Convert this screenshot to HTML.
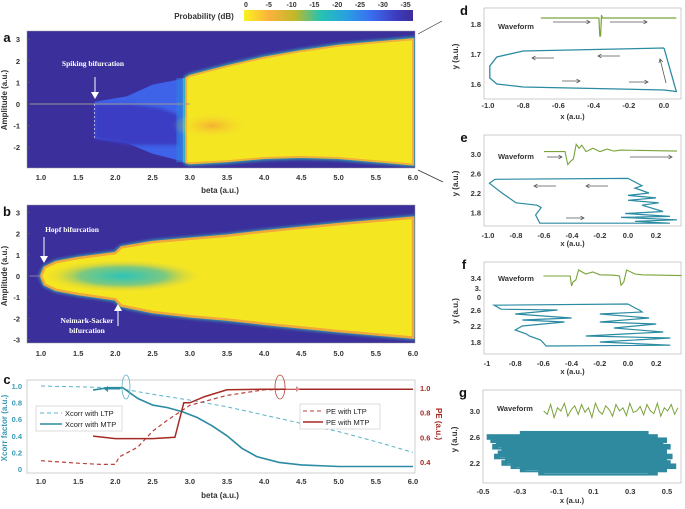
<!DOCTYPE html>
<html><head><meta charset="utf-8"><style>
body{margin:0;background:#fff;}
svg{display:block;font-family:"Liberation Sans",sans-serif;font-weight:bold;}
</style></head><body>
<svg id="fig" width="685" height="509" viewBox="0 0 685 509">
<defs>
<linearGradient id="cbar" x1="0" x2="1" y1="0" y2="0">
<stop offset="0" stop-color="#f9f11f"/><stop offset="0.15" stop-color="#fbb23c"/><stop offset="0.3" stop-color="#c2b828"/><stop offset="0.45" stop-color="#27c3b0"/><stop offset="0.6" stop-color="#27a2e0"/><stop offset="0.75" stop-color="#3a6ef0"/><stop offset="0.9" stop-color="#3d3cc0"/><stop offset="1" stop-color="#3b2e98"/></linearGradient>
<radialGradient id="blobB"><stop offset="0" stop-color="#2cc4b8"/><stop offset="0.55" stop-color="#7cc880"/><stop offset="1" stop-color="#f0d030" stop-opacity="0"/></radialGradient>
<radialGradient id="orangeA"><stop offset="0" stop-color="#f5a23a"/><stop offset="1" stop-color="#f7e823" stop-opacity="0"/></radialGradient>
<filter id="blur1"><feGaussianBlur stdDeviation="1.5"/></filter>
<filter id="blur3"><feGaussianBlur stdDeviation="3"/></filter>
<clipPath id="clipA"><rect x="27" y="31" width="388" height="137"/></clipPath>
<clipPath id="clipB"><rect x="27" y="205" width="388" height="138"/></clipPath>
<clipPath id="clipC"><rect x="27" y="380" width="388" height="93"/></clipPath>
</defs>
<g id="layer"></g>
</svg>
<script>
// ---------- data ----------
var betaTicks=[1.0,1.5,2.0,2.5,3.0,3.5,4.0,4.5,5.0,5.5,6.0];
var ampTicksA=[3,2,1,0,-1,-2];
var ampTicksB=[3,2,1,0,-1,-2,-3];
var cbarTicks=[0,-5,-10,-15,-20,-25,-30,-35];
// panel a envelopes
var aYelBeta=[2.95,3.0,3.5,4.0,4.5,5.0,5.5,6.0];
var aYelUp=[1.2,1.3,1.75,2.15,2.45,2.7,2.85,3.0];
var aYelLo=[-2.7,-2.75,-2.65,-2.5,-2.45,-2.5,-2.65,-2.8];
var aBlueBeta=[1.72,2.15,2.5,2.95];
var aBlueUp=[0.1,0.35,0.9,1.2];
var aBlueLo=[-1.6,-1.8,-2.3,-2.7];
// panel b envelope
var bBeta=[1.0,1.05,1.2,1.5,2.0,2.08,2.5,3.0,3.5,4.0,5.0,6.0];
var bUp=[0,0.4,0.65,0.85,1.08,1.35,1.6,1.75,1.9,2.1,2.45,2.75];
var bLo=[0,-0.4,-0.65,-0.85,-1.1,-1.4,-1.7,-1.9,-2.05,-2.25,-2.6,-2.9];
// panel c series
var xcLtpBeta=[1.0,2.0,2.5,3.0,3.5,4.0,4.5,5.0,5.5,6.0];
var xcLtp=[1.0,0.98,0.9,0.83,0.75,0.65,0.55,0.45,0.33,0.2];
var xcMtpBeta=[1.7,1.9,2.1,2.3,2.5,2.7,2.9,3.1,3.3,3.5,3.7,3.9,4.2,4.5,5.0,5.5,6.0];
var xcMtp=[0.95,0.98,0.98,0.85,0.77,0.74,0.69,0.62,0.52,0.40,0.25,0.15,0.08,0.05,0.03,0.03,0.03];
var peLtpBeta=[1.0,1.5,1.8,2.0,2.05,2.3,2.5,2.7,3.0,3.5,4.0,4.5,6.0];
var peLtp=[0.41,0.39,0.38,0.38,0.44,0.52,0.65,0.74,0.86,0.94,0.985,0.99,0.99];
var peMtpBeta=[1.7,2.0,2.5,2.8,2.92,3.0,3.2,3.5,4.0,6.0];
var peMtp=[0.61,0.59,0.59,0.60,0.88,0.88,0.93,0.985,0.99,0.99];
var xcTicks=[0,0.2,0.4,0.6,0.8,1.0];
var peTicks=[0.4,0.6,0.8,1.0];
// panel d
var dLoopX=[0,-0.8,-0.95,-0.99,-0.99,-0.95,-0.8,0,0.07,0];
var dLoopY=[1.72,1.71,1.69,1.66,1.62,1.60,1.59,1.58,1.575,1.72];
var dWaveX=[-0.7,-0.37,-0.365,-0.36,-0.355,-0.35,0.07];
var dWaveY=[1.82,1.82,1.76,1.76,1.83,1.82,1.82];
// panel e
var eLoopX=[0,-0.95,-0.99,-0.9,-0.8,-0.65,-0.62,-0.66,-0.63,0.3,0.05,0.35,-0.05,0.3,-0.02,0.25,0.1,0.22,0.0,0.2,0.0,0.15,0.05,0.1,0];
var eLoopY=[2.5,2.48,2.4,2.2,2.0,1.95,1.9,1.75,1.58,1.58,1.62,1.65,1.7,1.72,1.78,1.82,1.95,2.0,2.05,2.1,2.15,2.2,2.3,2.35,2.5];
var eWaveX=[-0.6,-0.45,-0.43,-0.41,-0.39,-0.37,-0.35,-0.33,-0.3,-0.25,-0.2,-0.15,-0.1,-0.05,0.35];
var eWaveY=[3.05,3.05,2.78,2.85,2.9,3.2,3.12,3.18,3.05,3.12,3.05,3.1,3.06,3.08,3.06];
// panel f
var fLoopX=[0,-0.95,-0.9,-0.5,-0.8,-0.4,-0.75,-0.45,-0.75,-0.8,-0.72,-0.7,-0.62,-0.58,0.3,-0.2,0.3,-0.3,0.25,-0.1,0.2,-0.2,0.15,-0.2,0.1,0.08,0.05,0];
var fLoopY=[2.75,2.72,2.62,2.6,2.5,2.4,2.35,2.3,2.2,2.1,2.0,1.95,1.85,1.7,1.72,1.8,1.9,1.95,2.05,2.15,2.25,2.3,2.4,2.5,2.55,2.6,2.65,2.75];
var fWaveX=[-0.6,-0.41,-0.4,-0.39,-0.37,-0.35,-0.3,-0.25,-0.2,-0.1,-0.06,-0.05,-0.03,-0.01,0.05,0.1,0.38];
var fWaveY=[3.45,3.45,3.2,3.3,3.35,3.6,3.5,3.55,3.48,3.47,3.45,3.22,3.3,3.6,3.5,3.48,3.46];
// panel g
var gLevels=[2.65,2.6,2.55,2.5,2.45,2.4,2.35,2.3,2.25,2.2,2.15,2.1,2.05];
var gLeft=[-0.3,-0.48,-0.46,-0.43,-0.45,-0.4,-0.42,-0.44,-0.38,-0.4,-0.35,-0.3,-0.2];
var gRight=[0.4,0.45,0.5,0.48,0.52,0.5,0.5,0.53,0.5,0.52,0.55,0.5,0.45];
var gWave=[3.0,2.95,3.1,2.9,3.05,3.0,3.12,2.92,3.02,3.08,2.95,3.1,2.98,3.05,2.9,3.12,3.0,2.95,3.08,3.02,2.92,3.1,3.0,3.05,2.93,3.12,2.98,3.0,3.07,2.94,3.1,3.0,2.96,3.12,2.92,3.05,3.0,3.1,2.95,3.05];

// ---------- helpers ----------
var NS="http://www.w3.org/2000/svg";
var root=document.getElementById('layer');
function mk(tag,attrs,parent){var e=document.createElementNS(NS,tag);for(var k in attrs)e.setAttribute(k,attrs[k]);(parent||root).appendChild(e);return e;}
function txt(s,x,y,size,fill,anchor,parent){var t=mk('text',{x:x,y:y,'font-size':size,fill:fill||'#222','text-anchor':anchor||'middle'},parent);t.textContent=s;return t;}
function pts(xs,ys,fx,fy){return xs.map(function(v,i){return fx(v).toFixed(1)+','+fy(ys[i]).toFixed(1);}).join(' ');}

function xb(b){return 41+(b-1)*74.4;}
function ya(v){return 104-v*21.6;}
function yb(v){return 276-v*21.2;}
function yc(v){return 469-v*83;}
function yp(v){return 388+(1-v)*123.3;}

// ---------- colorbar ----------
var cb=mk('rect',{x:244,y:10,width:169,height:11,fill:'url(#cbar)'});


var cbl=txt('Probability (dB)',204,19,8,'#333');


cbarTicks.forEach(function(v,i){var t=txt(String(v),246+i*22.8,7,7,'#333');

});

// ---------- panel a ----------
var ga=mk('g',{'clip-path':'url(#clipA)'});


mk('rect',{x:27,y:31,width:388,height:137,fill:'#3b2f9c'},ga);
var blueA=pts(aBlueBeta,aBlueUp,xb,ya)+' '+pts(aBlueBeta.slice().reverse(),aBlueLo.slice().reverse(),xb,ya);
mk('polygon',{points:blueA,fill:'#3e62e8'},ga);
mk('polygon',{points:pts([1.72,2.2,2.6,2.85,2.85,2.2,1.72],[0,0,-0.2,-0.5,-1.9,-1.9,-1.6],xb,ya),fill:'#3a3cc4',filter:'url(#blur1)'},ga);
mk('rect',{x:xb(2.82),y:ya(1.2),width:xb(2.95)-xb(2.82),height:ya(-2.7)-ya(1.2),fill:'#2f80e0',opacity:0.6},ga);
mk('line',{x1:xb(2.92),x2:xb(2.92),y1:ya(1.2),y2:ya(-2.7),stroke:'#40c0c0','stroke-width':1.5},ga);
var yelA=pts(aYelBeta,aYelUp,xb,ya)+' '+pts(aYelBeta.slice().reverse(),aYelLo.slice().reverse(),xb,ya);
mk('polygon',{points:yelA,fill:'#2fc0a8',stroke:'#35b8b0','stroke-width':4,filter:'url(#blur1)'},ga);
mk('polygon',{points:yelA,fill:'#f4e722',stroke:'#f0b03a','stroke-width':2},ga);
mk('ellipse',{cx:xb(3.3),cy:ya(-1),rx:40,ry:14,fill:'url(#orangeA)',opacity:0.8},ga);
mk('line',{x1:27,x2:xb(3.0),y1:ya(0),y2:ya(0),stroke:'#9a9a9a','stroke-width':1},ga);
mk('line',{x1:xb(1.72),x2:xb(1.72),y1:ya(0),y2:ya(-1.6),stroke:'#c8c8f0','stroke-width':0.8,'stroke-dasharray':'2,2'},ga);
mk('rect',{x:27,y:31,width:388,height:137,fill:'none',stroke:'#999','stroke-width':0.5});
var sa=txt('Spiking bifurcation',93,66,7.5,'#fff');sa.setAttribute('font-family','Liberation Serif');


mk('line',{x1:95,x2:95,y1:77,y2:95,stroke:'#fff','stroke-width':1});
mk('polygon',{points:'91,92 99,92 95,99',fill:'#fff'});
var la=txt('a',7,42,13,'#111');
ampTicksA.forEach(function(v){var t=txt(String(v),20,ya(v)+3,7.5,'#333','end');


mk('line',{x1:27,x2:30,y1:ya(v),y2:ya(v),stroke:'#555'});});
betaTicks.forEach(function(v){var t=txt(v.toFixed(1),xb(v),180,7.5,'#333');

});
var xta=txt('beta (a.u.)',220,193,8,'#333');
var yta=txt('Amplitude (a.u.)',0,0,8,'#333');yta.setAttribute('transform','translate(7,100) rotate(-90)');



// ---------- panel b ----------
var gb=mk('g',{'clip-path':'url(#clipB)'});


mk('rect',{x:27,y:205,width:388,height:138,fill:'#3b2f9c'},gb);
var envB=pts(bBeta,bUp,xb,yb)+' '+pts(bBeta.slice().reverse(),bLo.slice().reverse(),xb,yb);
mk('polygon',{points:envB,fill:'#2fbfae',stroke:'#38b6b0','stroke-width':4,filter:'url(#blur1)'},gb);
mk('polygon',{points:envB,fill:'#f4e722',stroke:'#f0a83a','stroke-width':2.5},gb);
mk('ellipse',{cx:xb(2.1),cy:yb(0),rx:78,ry:16,fill:'url(#blobB)'},gb);
mk('line',{x1:27,x2:xb(1.0),y1:yb(0),y2:yb(0),stroke:'#8080b0','stroke-width':1},gb);
mk('rect',{x:27,y:205,width:388,height:138,fill:'none',stroke:'#999','stroke-width':0.5});
var hb=txt('Hopf bifurcation',72,232,7.5,'#fff');hb.setAttribute('font-family','Liberation Serif');


mk('line',{x1:44,x2:44,y1:237,y2:258,stroke:'#fff'});mk('polygon',{points:'40,256 48,256 44,263',fill:'#fff'});
var nb=txt('Neimark-Sacker',87,323,7.5,'#fff');nb.setAttribute('font-family','Liberation Serif');


var nb2=txt('bifurcation',87,333,7.5,'#fff');nb2.setAttribute('font-family','Liberation Serif');
mk('line',{x1:118,x2:118,y1:309,y2:326,stroke:'#fff'});mk('polygon',{points:'114,311 122,311 118,304',fill:'#fff'});
var lb=txt('b',7,216,13,'#111');
ampTicksB.forEach(function(v){var t=txt(String(v),20,yb(v)+3,7.5,'#333','end');


mk('line',{x1:27,x2:30,y1:yb(v),y2:yb(v),stroke:'#555'});});
betaTicks.forEach(function(v){var t=txt(v.toFixed(1),xb(v),356,7.5,'#333');

});
var ytb=txt('Amplitude (a.u.)',0,0,8,'#333');ytb.setAttribute('transform','translate(7,276) rotate(-90)');



// ---------- panel c ----------
mk('rect',{x:27,y:380,width:388,height:93,fill:'none',stroke:'#bbb','stroke-width':0.7});
var gc=mk('g',{'clip-path':'url(#clipC)'});


var l1=mk('polyline',{points:pts(xcLtpBeta,xcLtp,xb,yc),fill:'none',stroke:'#5bb2c8','stroke-width':1,'stroke-dasharray':'4,3'},gc);


var l2=mk('polyline',{points:pts(xcMtpBeta,xcMtp,xb,yc),fill:'none',stroke:'#2a8ba2','stroke-width':1.6},gc);


var l3=mk('polyline',{points:pts(peLtpBeta,peLtp,xb,yp),fill:'none',stroke:'#b8403a','stroke-width':1.2,'stroke-dasharray':'4,3'},gc);


var l4=mk('polyline',{points:pts(peMtpBeta,peMtp,xb,yp),fill:'none',stroke:'#a52a24','stroke-width':1.5},gc);


mk('ellipse',{cx:126,cy:387,rx:4,ry:12,fill:'none',stroke:'#5bb2c8','stroke-width':0.8});
mk('line',{x1:120,x2:108,y1:389,y2:389,stroke:'#2a8ba2'});mk('polygon',{points:'108,386 108,392 104,389',fill:'#2a8ba2'});
mk('ellipse',{cx:280,cy:387,rx:5,ry:12,fill:'none',stroke:'#b8403a','stroke-width':0.8});
mk('line',{x1:286,x2:296,y1:389,y2:389,stroke:'#d89090'});mk('polygon',{points:'296,386 296,392 300,389',fill:'#d89090'});
var lg1=mk('g',{});
mk('rect',{x:36,y:406,width:86,height:25,fill:'#fff',stroke:'#bbb','stroke-width':0.5},lg1);
mk('line',{x1:40,x2:62,y1:413,y2:413,stroke:'#5bb2c8','stroke-dasharray':'4,3'},lg1);
mk('line',{x1:40,x2:62,y1:424,y2:424,stroke:'#2a8ba2','stroke-width':1.6},lg1);
var t1=txt('Xcorr with LTP',65,416,7.5,'#222','start',lg1);t1.setAttribute('font-weight','normal');
var t2=txt('Xcorr with MTP',65,427,7.5,'#222','start',lg1);t2.setAttribute('font-weight','normal');
var lg2=mk('g',{});
mk('rect',{x:300,y:404,width:80,height:25,fill:'#fff',stroke:'#bbb','stroke-width':0.5},lg2);
mk('line',{x1:303,x2:323,y1:411,y2:411,stroke:'#b8403a','stroke-dasharray':'4,3'},lg2);
mk('line',{x1:303,x2:323,y1:422,y2:422,stroke:'#a52a24','stroke-width':1.5},lg2);
var t3=txt('PE with LTP',326,414,7.5,'#222','start',lg2);t3.setAttribute('font-weight','normal');
var t4=txt('PE with MTP',326,425,7.5,'#222','start',lg2);t4.setAttribute('font-weight','normal');
var lc=txt('c',7,384,13,'#111');
xcTicks.forEach(function(v){var t=txt(v===0?'0':v.toFixed(1),22,yc(v)+3,7.5,'#3a9ab5','end');

});
peTicks.forEach(function(v){var t=txt(v.toFixed(1),420,yp(v)+3,7.5,'#a52a24','start');

});
betaTicks.forEach(function(v){var t=txt(v.toFixed(1),xb(v),484,7.5,'#333');

});
var xtc=txt('beta (a.u.)',220,498,8,'#333');
var ytc=txt('Xcorr factor (a.u.)',0,0,8,'#3a9ab5');ytc.setAttribute('transform','translate(7,428) rotate(-90)');


var ytc2=txt('PE (a.u.)',0,0,8,'#a52a24');ytc2.setAttribute('transform','translate(436,424) rotate(90)');



mk('line',{x1:418,y1:34,x2:442,y2:21,stroke:'#333','stroke-width':0.7});
mk('line',{x1:418,y1:170,x2:443,y2:182,stroke:'#333','stroke-width':0.7});

// ---------- right panels ----------
function panel(name,label,box,ly){
 var r=mk('rect',{x:box[0],y:box[1],width:box[2],height:box[3],fill:'none',stroke:'#aaa','stroke-width':0.6});
 
 
 var l=txt(label,box[0]-20,box[1]+7,13,'#111');
 
 
 var w=txt('Waveform',box[0]+14,ly,7.5,'#333','start');
 
 
 var yt=txt('y (a.u.)',0,0,8,'#333');yt.setAttribute('transform','translate('+(box[0]-26)+','+(box[1]+box[3]/2+3)+') rotate(-90)');
 
 
 var xt=txt('x (a.u.)',box[0]+box[2]/2-10,box[1]+box[3]+20,7.5,'#333');
 
 
}
function arrow(x1,y1,x2,y2){mk('line',{x1:x1,y1:y1,x2:x2,y2:y2,stroke:'#555','stroke-width':0.8});
 var a=Math.atan2(y2-y1,x2-x1),s=4;
 mk('polyline',{points:(x2-s*Math.cos(a-0.5))+','+(y2-s*Math.sin(a-0.5))+' '+x2+','+y2+' '+(x2-s*Math.cos(a+0.5))+','+(y2-s*Math.sin(a+0.5)),fill:'none',stroke:'#555','stroke-width':0.8});}
function ticksY(vals,fy,x,fmt){vals.forEach(function(v){var t=txt(fmt(v),x-3,fy(v)+3,7.5,'#333','end');});}
function ticksX(vals,fx,y,fmt){vals.forEach(function(v){var t=txt(fmt(v),fx(v),y,7.5,'#333');});}
var f1=function(v){return v.toFixed(1);};

function xd(x){return 488+(x+1)*176;} function yd(y){return 84-(y-1.6)*300;}
panel('panel-d','d',[484,8,197,91],29);
var dl=mk('polyline',{points:pts(dLoopX,dLoopY,xd,yd),fill:'none',stroke:'#2a8ba2','stroke-width':1.3});

var dw=mk('polyline',{points:pts(dWaveX,dWaveY,xd,yd),fill:'none',stroke:'#7aa33a','stroke-width':1.2});

arrow(553,22,590,22);arrow(610,22,647,22);arrow(554,58,532,58);arrow(620,56,598,56);arrow(562,81,580,81);arrow(629,82,648,82);arrow(666,83,660,59);
ticksY([1.8,1.7,1.6],yd,484,f1);ticksX([-1.0,-0.8,-0.6,-0.4,-0.2,0.0],xd,108,f1);

function xe(x){return 488+(x+1)*140;} function ye(y){return 154-(y-3.0)*48.75;}
panel('panel-e','e',[484,135,197,91],159);
var el=mk('polyline',{points:pts(eLoopX,eLoopY,xe,ye),fill:'none',stroke:'#2a8ba2','stroke-width':1.2});

var ew=mk('polyline',{points:pts(eWaveX,eWaveY,xe,ye),fill:'none',stroke:'#7aa33a','stroke-width':1.1});

arrow(547,157,562,157);arrow(630,157,672,157);arrow(556,186,534,186);arrow(608,186,586,186);arrow(566,218,584,218);
ticksY([3.0,2.6,2.2,1.8],ye,484,f1);ticksX([-1.0,-0.8,-0.6,-0.4,-0.2,0.0,0.2],xe,238,f1);

function xf(x){return 487+(x+1)*141;} function yf(y){return 342-(y-1.8)*40;}
panel('panel-f','f',[484,262,197,92],281);
var fl=mk('polyline',{points:pts(fLoopX,fLoopY,xf,yf),fill:'none',stroke:'#2a8ba2','stroke-width':1.2});

var fw=mk('polyline',{points:pts(fWaveX,fWaveY,xf,yf),fill:'none',stroke:'#7aa33a','stroke-width':1.1});

ticksY([3.4,2.6,2.2,1.8],yf,484,f1);
txt('3.',481,291,7.5,'#333','end');txt('0',481,300,7.5,'#333','end');
ticksX([-1,-0.8,-0.6,-0.4,-0.2,0.0,0.2],xf,366,function(v){return v===-1?'-1':v.toFixed(1);});

function xg(x){return 483+(x+0.5)*184;} function yg(y){return 463-(y-2.2)*65;}
panel('panel-g','g',[483,390,198,93],411);
var gg=mk('g',{});
gLevels.forEach(function(v,i){
 mk('rect',{x:xg(gLeft[i]),y:yg(v)-2.8,width:xg(gRight[i])-xg(gLeft[i]),height:5.6,fill:'#2f8aa0'},gg);
 mk('line',{x1:xg(gLeft[i])+6,x2:xg(gRight[i])-10,y1:yg(v)+1,y2:yg(v)+1,stroke:'#8cc4d2','stroke-width':0.4},gg);
});
var gwx=gWave.map(function(v,i){return -0.17+i*(0.73/(gWave.length-1));});
var gw=mk('polyline',{points:pts(gwx,gWave,xg,yg),fill:'none',stroke:'#7aa33a','stroke-width':1});

ticksY([3.0,2.6,2.2],yg,483,f1);ticksX([-0.5,-0.3,-0.1,0.1,0.3,0.5],xg,494,f1);
</script>
</body></html>
